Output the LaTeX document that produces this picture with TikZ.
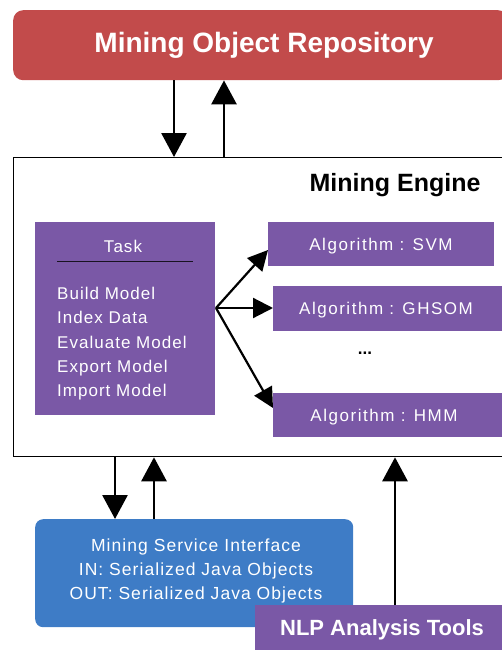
\documentclass[tikz,border=0pt]{standalone}
\usepackage{fontspec}
\setmainfont{Liberation Sans}
\newfontfamily\spaced[LetterSpace=6]{Liberation Sans}
\newfontfamily\wspaced[LetterSpace=9]{Liberation Sans}
\usetikzlibrary{arrows.meta}
\definecolor{repored}{HTML}{C24B4B}
\definecolor{mpurple}{HTML}{7A58A6}
\definecolor{mblue}{HTML}{3E7CC6}
\tikzset{
  arr/.style={line width=2.8pt,-{Triangle[width=25pt,length=24pt]}},
  farr/.style={line width=2.2pt,-{Triangle[width=20pt,length=20pt]}},
  algbox/.style={fill=mpurple,inner sep=0pt},
  algtext/.style={text=white,font=\wspaced\fontsize{17}{20}\selectfont},
}
\begin{document}
\begin{tikzpicture}[x=1pt,y=-1pt]
\useasboundingbox (0,0) rectangle (502,650);
% repository
\node[fill=repored,rounded corners=10pt,minimum width=495pt,minimum height=70pt,anchor=north west,inner sep=0pt] (repo) at (13,10) {};
\node[text=white,font=\bfseries\fontsize{28}{32}\selectfont] (repot) at (264,45) {Mining Object Repository};
% engine
\node[draw=black,line width=1.3pt,minimum width=500pt,minimum height=299pt,anchor=north west,inner sep=0pt] (engine) at (13,157) {};
\node[font=\bfseries\fontsize{25}{28}\selectfont,anchor=east] (enginet) at (484,185) {Mining Engine};
% task
\node[fill=mpurple,minimum width=180pt,minimum height=193pt,anchor=north west,inner sep=0pt] (task) at (35,222) {};
\node[text=white,font=\spaced\fontsize{17}{20}\selectfont] (taskt) at (123,246) {Task};
\draw[line width=1pt,black!80!mpurple] (57,261) -- (193,261);
\node[text=white,font=\spaced\fontsize{17}{24.3}\selectfont,align=left,anchor=north west,inner sep=0pt] (items) at (57,287)
 {Build Model\\Index Data\\Evaluate Model\\Export Model\\Import Model};
% algorithms
\node[algbox,minimum width=226pt,minimum height=44pt,anchor=north west] (svm) at (268,222) {};
\node[algtext] (svmt) at (381,246) {Algorithm : SVM};
\node[algbox,minimum width=235pt,minimum height=45pt,anchor=north west] (ghsom) at (273,286) {};
\node[algtext] (ghsomt) at (386,310) {Algorithm : GHSOM};
\node[font=\bfseries\fontsize{17}{20}\selectfont] (dots) at (365,353) {...};
\node[algbox,minimum width=235pt,minimum height=44pt,anchor=north west] (hmm) at (273,393) {};
\node[algtext] (hmmt) at (384,417) {Algorithm : HMM};
\coordinate (fork) at (216,308);
\draw[farr] (fork) -- (svm.west |- 0,250) ;
\draw[farr] (fork) -- (ghsom.west |- fork);
\draw[farr] (fork) -- (hmm.west |- 0,408);
% repo arrows
\draw[arr] (repo.south -| 174,0) -- (engine.north -| 174,0);
\draw[arr] (engine.north -| 224,0) -- (repo.south -| 224,0);
% blue box
\node[fill=mblue,rounded corners=8pt,minimum width=318pt,minimum height=108pt,anchor=north west,inner sep=0pt] (msi) at (35,519) {};
\node[text=white,font=\spaced\fontsize{17.5}{24}\selectfont,align=center] (msit) at (196,571)
 {Mining Service Interface\\IN: Serialized Java Objects\\OUT: Serialized Java Objects};
% nlp
\node[fill=mpurple,minimum width=250pt,minimum height=46pt,anchor=north west,inner sep=0pt] (nlp) at (255,605) {};
\node[text=white,font=\bfseries\fontsize{22}{26}\selectfont] (nlpt) at (382,630) {NLP Analysis Tools};
% bottom arrows
\draw[arr] (engine.south -| 115,0) -- (msi.north -| 115,0);
\draw[arr] (msi.north -| 154,0) -- (engine.south -| 154,0);
\draw[arr] (nlp.north -| 395,0) -- (engine.south -| 395,0);
\end{tikzpicture}
\end{document}
